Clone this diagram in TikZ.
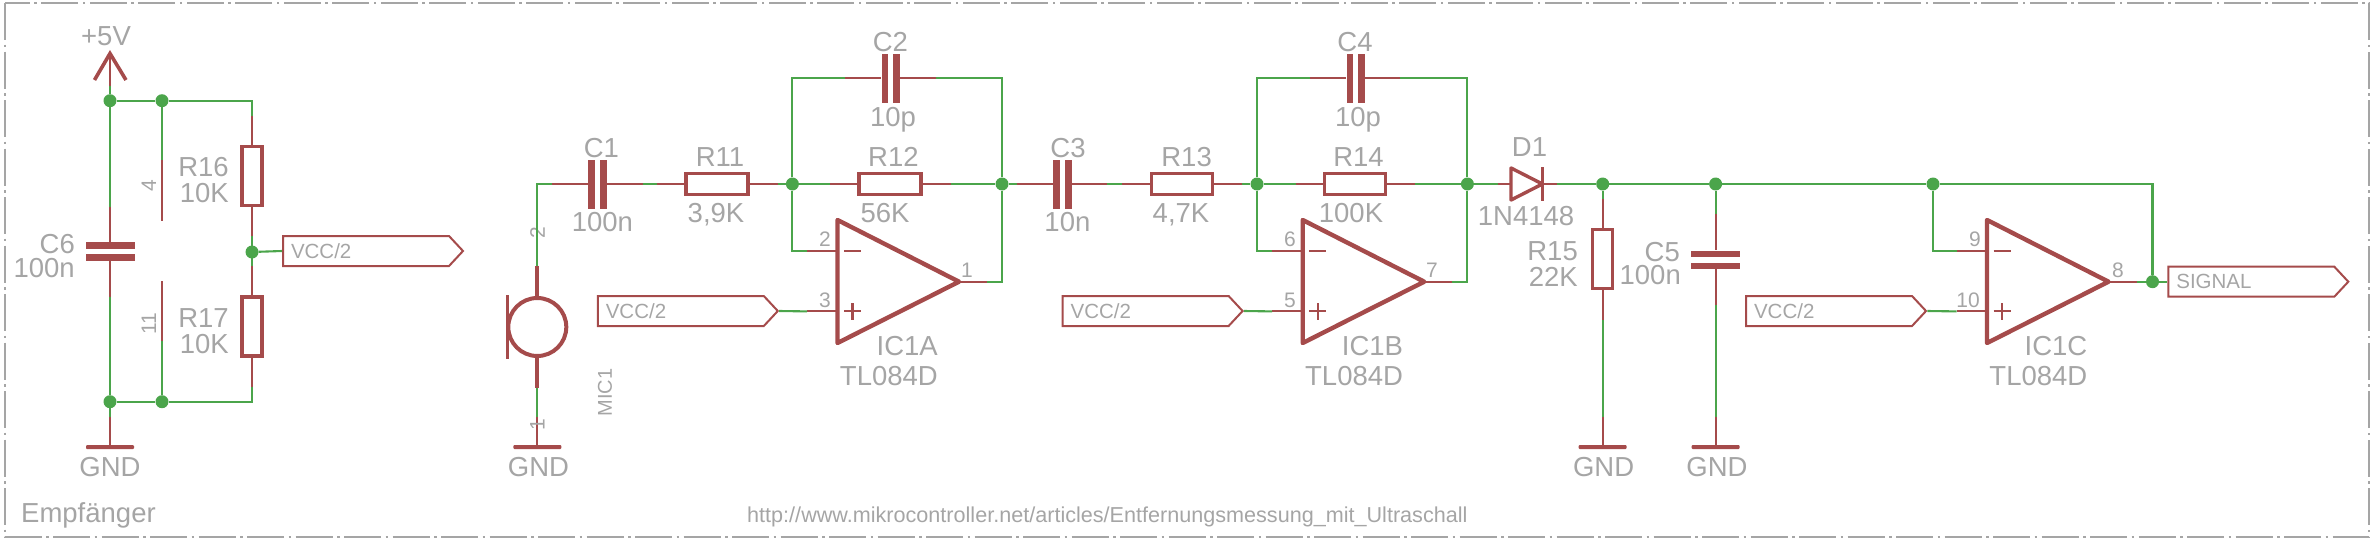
\documentclass[tikz,border=0pt]{standalone}
\usepackage{fontspec}
\setmainfont{Liberation Sans}
\usetikzlibrary{shapes.symbols}
\definecolor{partcol}{HTML}{A54B4B}
\definecolor{netcol}{HTML}{4BA54B}
\definecolor{textcol}{HTML}{A5A5A5}
\tikzset{
    wire/.style={netcol,line width=2.1pt},
    stub/.style={partcol,line width=2.1pt},
    thickstub/.style={partcol,line width=4pt},
    dot/.style={circle,fill=netcol,inner sep=0pt,minimum size=13pt},
    res/.style={draw=partcol,line width=3.4pt,fill=white,inner sep=0pt,minimum width=#1},
    vres/.style={res=20pt,minimum height=59pt},
    hres/.style={res=#1,minimum height=21pt},
    vplate/.style={fill=partcol,inner sep=0pt,minimum width=6.8pt,minimum height=49pt},
    hplate/.style={fill=partcol,inner sep=0pt,minimum width=49pt,minimum height=6.5pt},
    gndbar/.style={fill=partcol,inner sep=0pt,minimum width=48pt,minimum height=4pt,rounded corners=1pt},
    tag/.style={signal,signal to=east,signal pointer angle=94,draw=partcol,line width=2pt,inner sep=0pt,anchor=west,
        minimum height=30pt,minimum width=180pt,text width=150pt,text=textcol,font=\fontsize{20.5}{22}\selectfont},
    lab/.style={textcol,inner sep=0pt,anchor=base,font=\fontsize{27.5}{30}\selectfont},
    lab r/.style={lab,anchor=base east},
    pinlab/.style={textcol,inner sep=0pt,anchor=base,font=\fontsize{21}{23}\selectfont},
    pinrot/.style={textcol,inner sep=0pt,rotate=90,font=\fontsize{21}{23}\selectfont},
    opamp/.style={partcol,line width=4.4pt,line join=round},
}
\begin{document}
\begin{tikzpicture}[x=1pt,y=-1pt]
            \useasboundingbox (0,0) rectangle (2371,538);

            % Frame
            \draw[textcol,line width=2pt,dash pattern=on 37pt off 4.5pt on 2.5pt off 4.5pt] (5,3) rectangle (2369,537);
            \node[lab,anchor=base west] (title) at (21,522.4) {Empfänger};
            \node[textcol,inner sep=0pt,anchor=base west,font=\fontsize{21.6}{23}\selectfont] (url) at (747,522.4)
                {http://www.mikrocontroller.net/articles/Entfernungsmessung\_mit\_Ultraschall};

            % Junctions
            \node[dot] (J1) at (110,100.7) {};
            \node[dot] (J2) at (162,100.7) {};
            \node[dot] (J3) at (110,401.7) {};
            \node[dot] (J4) at (162,401.7) {};
            \node[dot] (J5) at (252,252) {};
            \node[dot] (J6) at (792.4,184) {};
            \node[dot] (J7) at (1002,184) {};
            \node[dot] (J8) at (1257,184) {};
            \node[dot] (J9) at (1467.4,184) {};
            \node[dot] (J10) at (1602.7,184) {};
            \node[dot] (J11) at (1715.6,184) {};
            \node[dot] (J12) at (1933,184) {};
            \node[dot] (J13) at (2152.5,281.7) {};

            % Op amps
            \foreach \name/\lx in {IC1A/837.5,IC1B/1302.7,IC1C/1987}
            {
                \draw[opamp] (\lx,220) -- (\lx+121.5,281.7) -- (\lx,343) -- cycle;
                \draw[stub] (\lx+6.5,251.4) -- (\lx+23.5,251.4);
                \draw[stub] (\lx+6.5,311.4) -- (\lx+23.5,311.4);
                \draw[stub] (\lx+15,303) -- (\lx+15,320);
                \coordinate (\name-minus) at (\lx,251.4);
                \coordinate (\name-plus) at (\lx,311.4);
                \coordinate (\name-out) at (\lx+121.5,281.7);
                \coordinate (\name-mstub) at (\lx-30.5,251.4);
                \coordinate (\name-pstub) at (\lx-30.5,311.4);
                \coordinate (\name-ostub) at (\lx+149.5,281.7);
                \node[lab r] (\name-name) at (\lx+100.5,355) {\name};
                \node[lab r] (\name-val) at (\lx+100.5,385.5) {TL084D};
                \draw[stub] (\name-mstub) -- (\name-minus);
                \draw[stub] (\name-pstub) -- (\name-plus);
                \draw[stub] (\name-out) -- (\name-ostub);
            }
            \node[pinlab] (pin2) at (825,246.5) {2};
            \node[pinlab] (pin3) at (825,307.6) {3};
            \node[pinlab] (pin1) at (967,277) {1};
            \node[pinlab] (pin6) at (1290,246.5) {6};
            \node[pinlab] (pin5) at (1290,307.6) {5};
            \node[pinlab] (pin7) at (1432,277) {7};
            \node[pinlab] (pin9) at (1975,246.5) {9};
            \node[pinlab] (pin10) at (1968,307.6) {10};
            \node[pinlab] (pin8) at (2118,277) {8};

            % Supply, C6
            \node[lab] (plusfive) at (106,45.9) {+5V};
            \coordinate (VCC) at (110,53.5);
            \coordinate (VCCstub) at (110,86);
            \draw[thickstub,line width=3.6pt] (94.5,80) -- (VCC) -- (126,80);
            \draw[stub] (VCC) -- (VCCstub);
            \draw[wire] (VCCstub) -- (J1);
            \node[hplate] (C6a) at (110,245.7) {};
            \node[hplate] (C6b) at (110,257.7) {};
            \coordinate (C6t) at (110,207);
            \coordinate (C6u) at (110,296.5);
            \draw[stub] (C6t) -- (C6a.north);
            \draw[stub] (C6b.south) -- (C6u);
            \draw[wire] (J1) -- (C6t);
            \draw[wire] (C6u) -- (J3);
            \node[lab r] (C6name) at (75,253.4) {C6};
            \node[lab r] (C6val) at (75,277) {100n};
            \node[gndbar] (G1) at (110,447) {};
            \coordinate (G1stub) at (110,417);
            \draw[stub] (G1stub) -- (G1);
            \draw[wire] (J3) -- (G1stub);
            \node[lab] (G1name) at (110,476.5) {GND};

            % Supply pins
            \coordinate (P4a) at (162,160);
            \coordinate (P4b) at (162,221);
            \coordinate (P11a) at (162,281);
            \coordinate (P11b) at (162,341);
            \draw[stub] (P4a) -- (P4b);
            \draw[stub] (P11a) -- (P11b);
            \draw[wire] (J2) -- (P4a);
            \draw[wire] (P11b) -- (J4);
            \node[pinrot] (pin4) at (149,186) {4};
            \node[pinrot] (pin11) at (149,324) {11};
            \draw[wire] (J1) -- (J2);
            \draw[wire] (J3) -- (J4);

            % Divider R16, R17
            \node[vres] (R16) at (252,176) {};
            \node[vres] (R17) at (252,326.5) {};
            \coordinate (R16t) at (252,115.5);
            \coordinate (R16u) at (252,236);
            \coordinate (R17t) at (252,265.5);
            \coordinate (R17u) at (252,387);
            \draw[stub] (R16t) -- (R16);
            \draw[stub] (R16) -- (R16u);
            \draw[stub] (R17t) -- (R17);
            \draw[stub] (R17) -- (R17u);
            \draw[wire] (J2) -| (R16t);
            \draw[wire] (R16u) -- (R17t);
            \draw[wire] (J4) -| (R17u);
            \node[lab r] (R16name) at (229,176.5) {R16};
            \node[lab r] (R16val) at (229,202.8) {10K};
            \node[lab r] (R17name) at (229,327.6) {R17};
            \node[lab r] (R17val) at (229,353.8) {10K};
            \node[tag] (V1) at (282,251) {VCC/2};
            \draw[wire] (J5) -- (V1.west);

            % Microphone
            \node[circle,draw=partcol,line width=4pt,inner sep=0pt,minimum size=58pt] (MIC1) at (537.3,327) {};
            \draw[partcol,line width=3.2pt] (507.5,295) -- (507.5,358.6);
            \coordinate (MICt) at (537.3,265.5);
            \coordinate (MICu) at (537.3,388);
            \coordinate (G2stub) at (537.3,417);
            \draw[thickstub] (MICt) -- (MIC1);
            \draw[thickstub] (MIC1) -- (MICu);
            \draw[wire] (MICu) -- (G2stub);
            \node[gndbar] (G2) at (537.3,447) {};
            \draw[stub] (G2stub) -- (G2);
            \node[lab] (G2name) at (538.5,476.5) {GND};
            \node[pinrot] (pin2m) at (537.5,233) {2};
            \node[pinrot] (pin1m) at (537.5,425) {1};
            \node[textcol,inner sep=0pt,rotate=90,font=\fontsize{20}{22}\selectfont] (MIC1name) at (605,392.4) {MIC1};

            % First stage
            \node[vplate] (C1a) at (591.5,184) {};
            \node[vplate] (C1b) at (603.4,184) {};
            \coordinate (C1l) at (552,184);
            \coordinate (C1r) at (642.7,184);
            \draw[wire] (MICt) |- (C1l);
            \draw[stub] (C1l) -- (C1a);
            \draw[stub] (C1b) -- (C1r);
            \node[lab] (C1name) at (601.4,157) {C1};
            \node[lab] (C1val) at (602.4,231.7) {100n};
            \node[hres=62pt] (R11) at (717,184) {};
            \coordinate (R11l) at (657,184);
            \coordinate (R11r) at (777.5,184);
            \draw[wire] (C1r) -- (R11l);
            \draw[stub] (R11l) -- (R11);
            \draw[stub] (R11) -- (R11r);
            \draw[wire] (R11r) -- (J6);
            \node[lab] (R11name) at (720,166) {R11};
            \node[lab] (R11val) at (716,222.4) {3,9K};
            \node[hres=62pt] (R12) at (890,184) {};
            \coordinate (R12l) at (830,184);
            \coordinate (R12r) at (950.5,184);
            \draw[wire] (J6) -- (R12l);
            \draw[stub] (R12l) -- (R12);
            \draw[stub] (R12) -- (R12r);
            \draw[wire] (R12r) -- (J7);
            \node[lab] (R12name) at (893.4,166) {R12};
            \node[lab] (R12val) at (885,222.4) {56K};
            \node[vplate] (C2a) at (885,78.3) {};
            \node[vplate] (C2b) at (896.5,78.3) {};
            \coordinate (C2l) at (845,78.3);
            \coordinate (C2r) at (935.5,78.3);
            \draw[wire] (J6) |- (C2l);
            \draw[wire] (C2r) -| (J7);
            \draw[stub] (C2l) -- (C2a);
            \draw[stub] (C2b) -- (C2r);
            \node[lab] (C2name) at (890.4,51) {C2};
            \node[lab] (C2val) at (893,126) {10p};
            \draw[wire] (J6) |- (IC1A-mstub);
            \draw[wire] (IC1A-ostub) -| (J7);
            \node[tag] (V2) at (596.8,311) {VCC/2};
            \draw[wire] (V2.east) -- (IC1A-pstub);

            % Second stage
            \node[vplate] (C3a) at (1056.5,184) {};
            \node[vplate] (C3b) at (1068.5,184) {};
            \coordinate (C3l) at (1016.6,184);
            \coordinate (C3r) at (1107,184);
            \draw[wire] (J7) -- (C3l);
            \draw[stub] (C3l) -- (C3a);
            \draw[stub] (C3b) -- (C3r);
            \node[lab] (C3name) at (1068,157) {C3};
            \node[lab] (C3val) at (1067.4,231.7) {10n};
            \node[hres=61pt] (R13) at (1181.7,184) {};
            \coordinate (R13l) at (1122,184);
            \coordinate (R13r) at (1242,184);
            \draw[wire] (C3r) -- (R13l);
            \draw[stub] (R13l) -- (R13);
            \draw[stub] (R13) -- (R13r);
            \draw[wire] (R13r) -- (J8);
            \node[lab] (R13name) at (1186.6,166) {R13};
            \node[lab] (R13val) at (1181,222.4) {4,7K};
            \node[hres=61pt] (R14) at (1355.2,184) {};
            \coordinate (R14l) at (1295.5,184);
            \coordinate (R14r) at (1415,184);
            \draw[wire] (J8) -- (R14l);
            \draw[stub] (R14l) -- (R14);
            \draw[stub] (R14) -- (R14r);
            \draw[wire] (R14r) -- (J9);
            \node[lab] (R14name) at (1358.5,166) {R14};
            \node[lab] (R14val) at (1351,222.4) {100K};
            \node[vplate] (C4a) at (1350,78.3) {};
            \node[vplate] (C4b) at (1361.8,78.3) {};
            \coordinate (C4l) at (1310,78.3);
            \coordinate (C4r) at (1400.4,78.3);
            \draw[wire] (J8) |- (C4l);
            \draw[wire] (C4r) -| (J9);
            \draw[stub] (C4l) -- (C4a);
            \draw[stub] (C4b) -- (C4r);
            \node[lab] (C4name) at (1355,51) {C4};
            \node[lab] (C4val) at (1358,126) {10p};
            \draw[wire] (J8) |- (IC1B-mstub);
            \draw[wire] (IC1B-ostub) -| (J9);
            \node[tag] (V3) at (1061.6,311) {VCC/2};
            \draw[wire] (V3.east) -- (IC1B-pstub);

            % Diode
            \coordinate (D1a) at (1511,184);
            \coordinate (D1k) at (1542.4,184);
            \coordinate (D1l) at (1498,184);
            \coordinate (D1r) at (1557,184);
            \draw[wire] (J9) -- (D1l);
            \draw[stub] (D1l) -- (D1a);
            \draw[stub] (D1k) -- (D1r);
            \draw[partcol,line width=3.4pt,line join=round] (1511,168) -- (D1k) -- (1511,200) -- cycle;
            \draw[partcol,line width=3.4pt] (1542.4,167) -- (1542.4,200.7);
            \node[lab] (D1name) at (1529.5,156) {D1};
            \node[lab] (D1val) at (1526,225.9) {1N4148};
            \draw[wire] (D1r) -- (J10);
            \draw[wire] (J10) -- (J11);
            \draw[wire] (J11) -- (J12);

            % R15
            \node[vres] (R15) at (1602.7,259) {};
            \coordinate (R15t) at (1602.7,199.3);
            \coordinate (R15u) at (1602.7,320);
            \coordinate (G3stub) at (1602.7,417);
            \draw[wire] (J10) -- (R15t);
            \draw[stub] (R15t) -- (R15);
            \draw[stub] (R15) -- (R15u);
            \draw[wire] (R15u) -- (G3stub);
            \node[gndbar] (G3) at (1602.7,447) {};
            \draw[stub] (G3stub) -- (G3);
            \node[lab] (G3name) at (1603.6,476.5) {GND};
            \node[lab r] (R15name) at (1578,260) {R15};
            \node[lab r] (R15val) at (1578,286) {22K};

            % C5
            \node[hplate] (C5a) at (1715.6,253.8) {};
            \node[hplate] (C5b) at (1715.6,265.9) {};
            \coordinate (C5t) at (1715.6,213.8);
            \coordinate (C5u) at (1715.6,305);
            \coordinate (G4stub) at (1715.6,417);
            \draw[wire] (J11) -- (C5t);
            \draw[stub] (C5t) -- (C5a);
            \draw[stub] (C5b) -- (C5u);
            \draw[wire] (C5u) -- (G4stub);
            \node[gndbar] (G4) at (1715.6,447) {};
            \draw[stub] (G4stub) -- (G4);
            \node[lab] (G4name) at (1717,476.5) {GND};
            \node[lab r] (C5name) at (1680,261.4) {C5};
            \node[lab r] (C5val) at (1681,284.5) {100n};

            % Third stage
            \draw[wire] (J12) |- (IC1C-mstub);
            \draw[wire] (J12) -| (J13);
            \draw[wire] (IC1C-ostub) -- (J13);
            \node[tag] (V4) at (1745,311) {VCC/2};
            \draw[wire] (V4.east) -- (IC1C-pstub);
            \node[tag] (S1) at (2167.3,281.7) {SIGNAL};
            \draw[wire] (J13) -- (S1.west);
\end{tikzpicture}
\end{document}
